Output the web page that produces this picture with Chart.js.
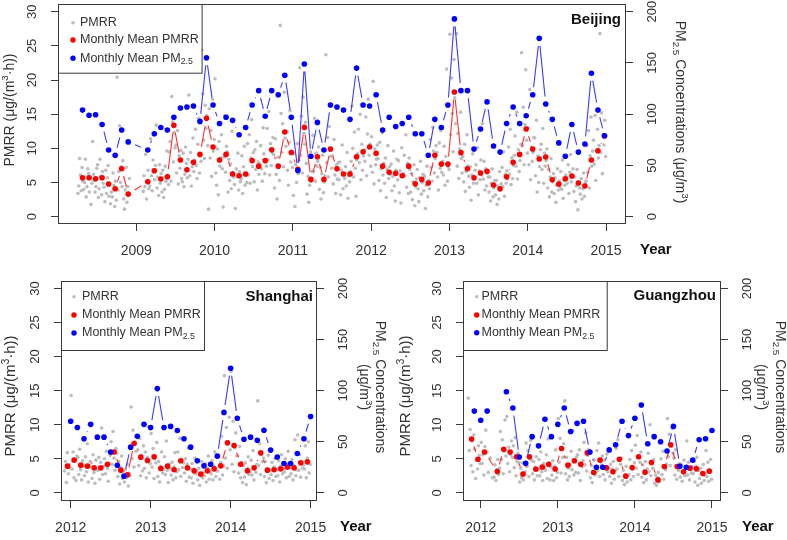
<!DOCTYPE html>
<html><head><meta charset="utf-8">
<script src="https://cdn.jsdelivr.net/npm/chart.js@4"></script>
<style>
html,body{margin:0;padding:0;background:#fff;}
body{width:787px;height:540px;position:relative;overflow:hidden;}
.p{position:absolute;}
canvas{display:block;}
</style></head><body>
<div class="p" style="left:0;top:0;width:787px;height:270px"><canvas id="bj"></canvas></div>
<div class="p" style="left:0;top:270px;width:393px;height:270px"><canvas id="sh"></canvas></div>
<div class="p" style="left:393px;top:270px;width:394px;height:270px"><canvas id="gz"></canvas></div>
<script>
function monthRange(a, b) {
  const out = []; let [y, m] = a.split('-').map(Number); const [y2, m2] = b.split('-').map(Number);
  while (y < y2 || (y === y2 && m <= m2)) { out.push(y + '-' + String(m).padStart(2, '0')); m++; if (m > 12) { m = 1; y++; } }
  return out;
}

// ---------------- Beijing ----------------
const bjMonths = monthRange('2008-04', '2008-11').concat(monthRange('2009-02', '2014-12'));
const bjPM25 = [104,99,99.5,90,65,60,84.5,73,
  65,81,87,84.5,97,106,107,108,93,155,109,
  91,97,94,80,87,109,123,98,123,119,138,97,
  45,149,59,92,65,109,107,104,95,145,109,108,
  119,84.5,97,88,91,97,81,81,60,95,87,109,
  193,123,123,66,85.5,112,69,63,91,107,91,98.5,
  119,174,110,95,72,59,90,63,71,140,104,79];
const bjPMRR = [5.7,5.7,5.56,5.7,4.78,4.1,7.02,3.32,
  5.12,6.73,5.51,5.85,13.37,8.3,6.88,7.95,9.12,14.39,10.2,
  8.3,9.12,6.24,6.0,6.24,8.2,7.4,8.2,9.8,7.4,12.4,9.4,
  6.93,13.07,5.46,8.78,5.46,9.9,7.0,6.24,6.24,8.78,9.5,10.2,
  9.27,7.4,6.49,6.34,6.0,7.4,4.83,5.46,4.93,9.0,7.7,7.7,
  18.24,9.37,7.02,5.7,6.4,6.63,4.63,4.1,5.85,7.95,9.12,12.83,
  9.9,8.44,8.73,5.41,4.78,5.56,5.95,4.93,4.49,8.3,9.66,11.8];
const bjDaily = [
  [3.4,4.5,8.5,6.1,3.8,7.2,5.2,4.0],[5.0,8.4,2.9,4.4,7.0,6.3,3.6,5.8],[1.8,4.9,11.0,6.2,5.3,3.6,4.4,7.1],[7.6,2.8,4.1,8.4,5.9,3.2,6.6,4.9],
  [4.3,2.2,6.8,3.4,5.7,7.5,3.0,4.8],[1.9,3.6,2.9,6.4,4.6,1.5,5.2,2.4],[20.4,3.9,6.6,13.3,5.0,7.3,4.4,8.2],[2.6,1.1,3.9,7.2,2.1,4.4,3.1,5.6],
  [3.7,6.0,4.4,9.1,2.6,5.2,6.8,4.1],[4.5,11.4,6.0,3.8,8.3,6.9,5.4,7.5],[13.4,4.2,5.8,3.1,7.6,4.9,6.3,3.6],[6.8,2.8,4.0,7.4,5.2,9.6,6.1,4.7],
  [9.5,11.0,5.2,17.6,13.9,8.0,12.3,10.1],[10.5,6.4,12.6,4.8,8.9,7.1,9.7,5.6],[5.1,9.3,4.4,6.2,10.2,7.8,5.7,8.4],[17.8,6.0,9.4,4.5,7.3,11.5,6.6,8.3],
  [12.8,7.5,5.6,10.6,14.4,6.4,9.0,8.1],[24.4,18.0,11.2,8.5,16.3,12.9,14.8,10.4],[1.1,15.8,8.6,12.6,5.9,17.2,9.6,11.3],
  [20.2,6.4,4.6,9.9,3.2,11.0,7.4,8.6],[12.0,7.0,1.4,8.7,14.8,6.5,10.3,9.5],[3.6,8.4,5.3,7.7,4.1,12.5,6.5,5.8],[4.7,1.2,7.0,5.8,9.3,3.9,6.6,5.1],
  [5.5,8.9,3.4,7.3,10.3,4.6,6.1,5.0],[10.7,6.1,12.0,4.9,8.6,14.2,7.3,9.4],[5.1,9.8,6.9,11.0,3.9,8.0,6.2,7.7],[10.4,7.0,5.2,13.0,9.2,6.3,8.0,7.4],
  [12.9,8.3,15.4,6.1,10.7,7.5,9.4,11.6],[9.1,4.2,11.4,6.2,2.6,8.7,7.5,5.3],[28.0,15.1,9.4,13.6,7.3,18.2,11.5,10.3],[12.5,6.8,4.6,10.9,15.5,8.0,9.6,7.2],
  [3.1,9.2,1.5,7.6,5.0,10.7,6.3,8.3],[21.8,9.0,14.7,6.4,17.5,12.2,10.6,13.8],[7.8,3.3,5.9,2.1,4.6,9.5,5.2,6.6],[11.9,6.6,14.4,5.2,9.3,7.4,8.1,10.2],
  [4.0,7.2,2.6,6.3,9.0,3.5,5.1,6.0],[23.7,7.9,11.6,5.8,13.2,8.8,9.7,7.1],[8.9,4.8,11.3,6.1,3.4,7.6,5.5,7.9],[5.4,8.0,3.2,6.8,10.5,4.1,6.2,5.6],
  [7.3,4.5,9.4,2.7,6.0,5.1,6.6,8.1],[16.2,10.0,5.8,12.4,7.1,3.0,8.3,9.2],[12.8,7.9,15.0,5.4,10.6,6.8,8.9,9.8],[8.1,14.6,6.0,12.1,17.2,9.0,10.6,7.4],
  [11.7,6.5,19.8,4.8,9.9,7.6,8.4,10.5],[8.5,5.3,10.9,3.8,7.0,12.3,6.1,7.8],[4.9,8.6,2.8,6.9,10.4,5.6,7.3,6.2],[7.7,3.8,5.9,9.6,4.5,2.3,6.8,8.4],
  [5.4,8.2,3.5,6.7,2.0,10.1,5.9,6.3],[9.0,6.0,12.0,4.3,7.8,3.4,8.6,6.9],[3.6,6.3,2.5,5.1,7.6,1.6,4.4,5.5],[6.9,4.1,2.2,5.7,8.1,3.3,5.0,6.2],
  [3.8,5.9,1.2,4.6,7.4,2.9,5.3,4.1],[11.3,7.2,5.2,13.1,9.6,6.4,8.5,10.4],[9.4,5.8,3.9,10.8,7.1,12.6,6.5,8.1],[6.1,10.3,4.6,8.8,21.6,5.2,7.3,6.9],
  [26.7,12.0,20.3,15.1,9.5,23.0,17.4,13.6],[26.8,7.4,12.2,5.6,9.9,15.3,8.5,6.4],[8.8,5.1,10.6,3.7,6.6,12.0,7.4,5.9],[4.3,7.3,2.4,6.1,9.2,4.9,5.6,6.8],
  [7.6,4.9,10.1,3.2,6.7,5.4,8.3,6.1],[13.6,5.5,8.1,3.9,7.0,4.5,6.4,5.8],[3.6,5.8,2.3,4.9,7.0,2.9,4.2,5.3],[3.2,5.3,1.8,4.5,2.6,6.6,3.9,4.8],
  [7.2,4.4,9.5,3.0,6.2,4.9,6.7,5.5],[10.2,6.2,12.8,4.7,8.6,5.6,7.5,9.0],[11.8,7.4,15.3,5.5,9.8,6.6,8.2,10.6],[24.0,10.4,16.0,7.6,13.5,21.5,11.2,9.3],
  [13.0,7.6,18.6,5.4,10.2,8.1,9.4,11.6],[11.5,6.0,14.1,3.6,8.9,5.0,7.3,9.8],[10.6,6.9,12.9,4.9,9.3,7.4,8.2,9.9],[4.2,6.9,2.9,5.8,8.5,3.6,5.1,6.3],
  [3.4,5.7,2.1,4.6,7.0,3.9,5.2,4.4],[6.6,4.0,8.3,2.7,5.3,4.6,6.1,5.8],[4.9,7.6,3.4,6.5,9.1,5.1,5.8,7.0],[3.7,5.8,2.2,4.5,6.9,1.0,5.1,4.2],
  [3.3,5.6,2.6,4.1,6.4,3.0,4.8,5.2],[10.4,6.5,12.6,4.2,8.9,14.6,7.4,9.6],[11.2,7.7,14.8,5.3,9.6,12.8,8.6,10.4],[26.8,9.4,15.2,6.3,12.0,10.5,14.1,8.8]];

// ---------------- Shanghai ----------------
const shMonths = monthRange('2011-12', '2014-12');
const shPM25 = [70, 64,53,67,54.5,54.5,40,27,16.3,44.7,55.3,67,64,
  102,64,65,61,53,44.7,31.3,26.4,28,35.9,78.7,122,
  73,52.5,54.5,51.5,61.3,41.8,35,28.7,28.7,38.5,53,74.7];
const shPMRR = [3.92, 4.8,4.06,3.92,3.67,3.67,4.2,6.0,3.33,2.64,7.24,5.24,4.75,
  5.29,3.57,3.92,3.38,4.7,3.67,3.23,2.74,3.23,3.52,3.96,7.34,
  6.95,4.2,3.23,3.67,5.87,3.33,3.38,3.52,3.77,3.67,4.4,4.55];
const shDaily = [
  [3.2,4.6,1.5,5.9,2.8,4.1,3.6],
  [14.3,3.5,6.0,2.2,4.9,1.8,5.4],[5.2,2.7,6.4,3.4,1.9,4.7,3.9],[2.5,5.3,3.1,7.2,1.6,3.9,4.6],[4.4,2.1,5.6,3.0,1.4,4.8,3.5],
  [3.3,5.2,2.0,4.5,9.5,2.7,3.9],[5.0,2.8,6.1,3.6,1.7,4.3,5.5],[7.5,4.2,9.0,5.1,3.3,6.5,5.8],[2.4,4.6,1.3,3.7,5.4,2.1,3.2],
  [1.6,3.4,2.2,4.2,1.0,2.9,2.5],[12.6,5.0,9.2,3.8,7.5,6.1,8.4],[6.3,4.0,8.0,2.5,5.5,3.2,6.9],[3.6,6.0,2.2,5.2,9.7,2.9,4.3],
  [8.7,3.8,6.5,2.1,5.0,4.4,7.4],[2.4,4.6,1.6,3.9,6.0,2.9,3.4],[5.3,2.7,7.6,3.3,1.5,4.2,3.6],[2.6,4.5,1.9,3.8,5.9,2.2,3.1],
  [6.0,3.4,8.0,2.4,4.9,3.7,4.4],[2.9,5.0,1.7,4.2,6.6,2.3,3.5],[2.2,4.3,1.4,3.5,5.1,2.8,3.2],[1.9,3.6,1.1,2.8,4.6,2.2,2.9],
  [2.5,4.3,1.6,3.6,5.4,2.0,3.1],[2.8,4.7,1.9,3.9,6.0,2.4,3.2],[3.2,5.4,2.0,4.4,8.3,2.6,3.9],[17.2,5.1,9.6,3.6,7.4,11.1,6.3],
  [17.8,4.2,10.5,3.1,6.6,8.8,5.4],[5.4,2.9,6.8,2.2,4.5,1.5,4.0],[2.3,4.4,1.2,3.6,5.3,2.7,3.1],[4.8,2.6,6.2,1.9,3.9,3.0,4.2],
  [13.5,4.0,7.2,2.7,5.6,4.6,5.1],[2.4,4.6,1.5,3.5,5.5,2.1,3.3],[2.7,4.5,1.8,3.8,5.0,2.4,3.4],[2.5,4.7,1.6,3.9,5.6,2.8,3.5],
  [3.1,5.0,2.2,4.2,6.1,2.4,3.7],[2.8,4.9,1.9,4.0,7.8,2.5,3.4],[8.5,3.3,5.6,2.3,4.5,3.6,4.1],[3.5,6.9,2.2,5.1,7.5,2.9,4.2]];

// ---------------- Guangzhou ----------------
const gzMonths = monthRange('2011-11', '2014-12');
const gzPM25 = [80,71, 80,null,null,99,83,35,29,55,46,72,55,67,
  83,60,68,70,40,25,25,42,47,70,56,73,
  86,48,55,50,41,65,26,25,32,52,53,61];
const gzPMRR = [7.9,4.94, 6.0,null,3.13,6.4,6.0,5.3,2.74,5.3,3.47,3.77,4.2,3.5,
  6.5,4.06,4.7,4.2,5.87,2.99,4.8,3.67,3.08,4.94,2.45,3.72,
  5.3,3.03,4.45,1.9,3.87,7.05,3.87,3.08,3.62,3.52,2.84,3.18];
const gzDaily = [
  [13.9,6.2,9.3,4.0,7.6,3.1,8.5],[6.4,2.1,4.8,3.5,6.9,5.5,4.3],
  [7.4,4.3,5.6,2.6,6.8,9.2,5.9],[3.0,5.1,2.2],[2.3,4.1,1.8,3.4,4.9,2.7,3.6],[9.0,4.9,7.8,2.8,6.1,10.7,5.4],
  [11.2,4.3,6.7,3.1,5.6,7.6,5.2],[6.9,3.7,8.1,2.5,4.6,5.8,4.4],[1.6,3.6,2.2,4.4,1.9,2.9,3.1],[7.3,3.9,6.2,2.4,5.1,7.7,4.8],
  [2.8,4.6,1.9,3.8,5.3,2.5,3.4],[4.9,2.5,6.0,3.1,1.8,4.3,3.7],[3.3,5.6,2.1,7.9,4.4,1.9,3.8],[2.6,4.7,1.8,3.9,6.3,2.2,3.0],
  [10.9,4.5,8.0,2.9,6.4,5.2,7.2],[13.5,2.8,5.2,1.9,3.6,2.4,4.1],[6.1,3.4,9.1,2.6,4.8,3.0,5.3],[5.6,2.9,6.3,1.8,4.4,3.8,4.7],
  [7.4,4.1,8.8,3.2,5.5,6.3,5.9],[2.2,4.0,1.5,3.1,4.8,2.6,2.9],[6.2,3.3,7.3,2.4,5.0,4.1,5.4],[2.7,4.8,1.9,3.9,5.7,3.1,3.6],
  [2.4,4.2,1.4,3.5,4.6,2.0,3.3],[6.5,3.5,7.8,2.4,4.9,4.2,5.1],[1.8,3.3,1.2,2.6,3.9,1.6,2.5],[2.7,4.9,1.9,6.2,3.4,2.4,4.4],
  [7.0,3.6,8.4,2.7,5.2,4.5,6.0],[2.3,4.1,1.5,3.3,4.6,1.9,3.5],[5.8,3.1,10.0,2.5,4.3,3.6,4.9],[1.4,2.6,1.1,2.2,3.0,1.6,1.9],
  [5.0,2.7,6.1,2.0,3.8,3.4,4.2],[10.9,5.3,8.6,4.0,6.8,9.5,5.8],[5.1,2.6,6.3,2.0,3.7,3.3,4.3],[2.3,4.2,1.7,3.2,4.8,2.5,3.6],
  [7.6,2.6,4.5,1.9,3.4,2.9,3.8],[2.8,4.6,1.6,3.9,5.2,1.1,3.3],[2.1,3.6,1.4,2.9,4.2,1.8,2.6],[6.2,2.4,4.5,1.7,3.1,4.9,2.0]];

// tick labels
const bjYears = [2009, 2010, 2011, 2012, 2013, 2014, 2015];
const smallYears = [2012, 2013, 2014, 2015];
const leftTicks = [0, 5, 10, 15, 20, 25, 30];
const rightTicks = [0, 50, 100, 150, 200];

// ---------------- styling ----------------
const F = "'Liberation Sans', Arial, sans-serif";
const AX = '#3a3a3a', TX = '#333';
const GRAY = '#bdbdbd', RED = '#ff0000', BLUE = '#0000ff';
const RATIO = 200 / 30;

const TITLE_L = [{t: 'PMRR (\u03bcg/(m'}, {t: '3', s: 'sup'}, {t: '\u00b7h))'}];
const TITLE_R1 = [{t: 'PM'}, {t: '2.5', s: 'sub'}, {t: ' Concentrations (\u03bcg/m'}, {t: '3', s: 'sup'}, {t: ')'}];
const TITLE_Ra = [{t: 'PM'}, {t: '2.5', s: 'sub'}, {t: ' Concentrations'}];
const TITLE_Rb = [{t: '(\u03bcg/m'}, {t: '3', s: 'sup'}, {t: ')'}];
const LEG = [[{t: 'PMRR'}], [{t: 'Monthly Mean PMRR'}], [{t: 'Monthly Mean PM'}, {t: '2.5', s: 'sub'}]];

const panels = [
  {id: 'bj', ox: 0, oy: 0, w: 787, h: 270, area: {l: 58, r: 626, t: 4, b: 224},
   xr: [2008.0, 2015.255], yr: [-1.07, 31.13], years: bjYears,
   months: bjMonths, pm: bjPM25, rr: bjPMRR, daily: bjDaily, pmOff: -0.02, rrOff: -0.02,
   name: 'Beijing', nameX: 621, nameY: 20, yearX: 640, yearY: 250, leftSize: 14,
   leftT: {x: 10, y: 110}, rightT: [{parts: TITLE_R1, x: 680, y: 112}],
   leg: {w: 143.6, h: 68.7, rows: [18.7, 36, 54.3], sym: 15, tx: 22}},
  {id: 'sh', ox: 0, oy: 270, w: 393, h: 270, area: {l: 61, r: 317, t: 11, b: 231},
   xr: [2011.879, 2015.08], yr: [-1.2, 31.1], years: smallYears,
   months: shMonths, pm: shPM25, rr: shPMRR, daily: shDaily, pmOff: 0, rrOff: -0.04,
   name: 'Shanghai', nameX: 313, nameY: 296.5, yearX: 340, yearY: 527, leftSize: 15,
   leftT: {x: 11, y: 396}, rightT: [{parts: TITLE_Ra, x: 380, y: 387}, {parts: TITLE_Rb, x: 364, y: 387}],
   leg: {w: 143, h: 69, rows: [15.7, 34, 52], sym: 13, tx: 21}},
  {id: 'gz', ox: 393, oy: 270, w: 394, h: 270, area: {l: 70, r: 328, t: 11, b: 231},
   xr: [2011.77, 2015.117], yr: [-1.2, 31.1], years: smallYears,
   months: gzMonths, pm: gzPM25, rr: gzPMRR, daily: gzDaily, pmOff: 0, rrOff: -0.035,
   name: 'Guangzhou', nameX: 716, nameY: 296.3, yearX: 742, yearY: 527, leftSize: 15,
   leftT: {x: 406, y: 396}, rightT: [{parts: TITLE_Ra, x: 780, y: 387}, {parts: TITLE_Rb, x: 761, y: 387}],
   leg: {w: 143.7, h: 69, rows: [15.7, 34, 51.7], sym: 13.7, tx: 18.5}}
];
const PANEL = {};
panels.forEach(p => { PANEL[p.id] = p; });

function fnt(size, bold) { return (bold ? 'bold ' : '') + size + 'px ' + F; }
function richWidth(ctx, parts, size) {
  let w = 0;
  for (const p of parts) { ctx.font = fnt(p.s ? size * 0.7 : size); w += ctx.measureText(p.t).width; }
  return w;
}
function drawRich(ctx, parts, x, y, size, align) {
  let cx = align === 'center' ? x - richWidth(ctx, parts, size) / 2 : x;
  ctx.textAlign = 'left'; ctx.textBaseline = 'middle';
  for (const p of parts) {
    const fs = p.s ? size * 0.7 : size;
    ctx.font = fnt(fs);
    const dy = p.s === 'sup' ? -size * 0.33 : p.s === 'sub' ? size * 0.3 : 0;
    ctx.fillText(p.t, cx, y + dy);
    cx += ctx.measureText(p.t).width;
  }
}
function rotRich(ctx, parts, x, y, size, ang) {
  ctx.save(); ctx.translate(x, y); ctx.rotate(ang); drawRich(ctx, parts, 0, 0, size, 'center'); ctx.restore();
}

// R "type = b" style line: segments between points, with a gap around each point
const bLinePlugin = {
  id: 'bline',
  beforeDatasetDraw(chart, args) {
    const ds = chart.data.datasets[args.index];
    if (!ds.bLine) return;
    const pts = args.meta.data, ctx = chart.ctx, g = 7.5, ca = chart.chartArea;
    ctx.save();
    ctx.beginPath();
    ctx.rect(ca.left, ca.top, ca.right - ca.left, ca.bottom - ca.top);
    ctx.clip();
    ctx.strokeStyle = ds.bLine; ctx.lineWidth = 1.1;
    ctx.beginPath();
    for (let i = 1; i < pts.length; i++) {
      if (ds.data[i].y === null || ds.data[i - 1].y === null) continue;
      const a = pts[i - 1], b = pts[i];
      const dx = b.x - a.x, dy = b.y - a.y, d = Math.hypot(dx, dy);
      if (d > 2 * g) {
        const ux = dx / d, uy = dy / d;
        ctx.moveTo(a.x + ux * g, a.y + uy * g);
        ctx.lineTo(b.x - ux * g, b.y - uy * g);
      }
    }
    ctx.stroke();
    ctx.restore();
  }
};

const decoPlugin = {
  id: 'deco',
  afterDraw(chart) {
    const p = PANEL[chart.canvas.id];
    if (!p) return;
    const ctx = chart.ctx, a = chart.chartArea;
    const X = v => v - p.ox, Y = v => v - p.oy;
    ctx.save();
    // plot box
    ctx.strokeStyle = AX; ctx.lineWidth = 1;
    ctx.strokeRect(Math.round(a.left) + 0.5, Math.round(a.top) + 0.5, Math.round(a.right - a.left) - 1, Math.round(a.bottom - a.top) - 1);
    // rotated y tick labels
    ctx.fillStyle = TX;
    for (const [sc, x] of [[chart.scales.y, a.left - 26], [chart.scales.y2, a.right + 26]]) {
      for (const t of sc.ticks) {
        const y = sc.getPixelForValue(t.value);
        ctx.save(); ctx.translate(x, y); ctx.rotate(-Math.PI / 2);
        ctx.font = fnt(13); ctx.textAlign = 'center'; ctx.textBaseline = 'middle';
        ctx.fillText(String(t.value), 0, 0); ctx.restore();
      }
    }
    // axis titles
    rotRich(ctx, TITLE_L, X(p.leftT.x), Y(p.leftT.y), p.leftSize, -Math.PI / 2);
    for (const rt of p.rightT) rotRich(ctx, rt.parts, X(rt.x), Y(rt.y), 14, Math.PI / 2);
    // Year label
    ctx.font = fnt(15, true); ctx.textAlign = 'left'; ctx.textBaseline = 'middle'; ctx.fillStyle = '#111';
    ctx.fillText('Year', X(p.yearX), Y(p.yearY));
    // city name
    ctx.textAlign = 'right';
    ctx.fillText(p.name, X(p.nameX), Y(p.nameY));
    // legend
    const L = p.leg, lx = Math.round(a.left) + 0.5, ly = Math.round(a.top) + 0.5;
    ctx.fillStyle = '#fff'; ctx.fillRect(lx, ly, L.w, L.h);
    ctx.strokeStyle = AX; ctx.strokeRect(lx, ly, L.w, L.h);
    const cols = [GRAY, RED, BLUE], rads = [1.8, 2.7, 2.7];
    for (let i = 0; i < 3; i++) {
      ctx.fillStyle = cols[i];
      ctx.beginPath(); ctx.arc(a.left + L.sym, a.top + L.rows[i], rads[i], 0, Math.PI * 2); ctx.fill();
      ctx.fillStyle = TX;
      drawRich(ctx, LEG[i], a.left + L.tx, a.top + L.rows[i], 12.5, 'left');
    }
    ctx.restore();
  }
};

function build(p) {
  const cv = document.getElementById(p.id);
  cv.width = p.w; cv.height = p.h;
  const gray = [], red = [], blue = [];
  p.months.forEach((m, i) => {
    const [yy, mm] = m.split('-').map(Number);
    const row = p.daily[i] || [];
    row.forEach((v, j) => gray.push({x: yy + (mm - 1) / 12 + (j + 0.5) / (row.length * 12), y: v}));
    const xm = yy + mm / 12;
    if (p.rr[i] !== null) red.push({x: xm + p.rrOff, y: p.rr[i]});
    blue.push({x: xm + p.pmOff, y: p.pm[i]});
  });
  const axisCommon = () => ({
    grid: {drawOnChartArea: false, drawTicks: true, tickLength: 7, color: AX, lineWidth: 1},
    border: {display: false}
  });
  new Chart(cv, {
    type: 'scatter',
    data: {datasets: [
      {label: 'Monthly Mean PM2.5', data: blue, yAxisID: 'y2', order: 1, showLine: false, bLine: '#3a3aff',
       pointRadius: 2.8, pointBorderWidth: 0, backgroundColor: BLUE, borderColor: BLUE},
      {label: 'Monthly Mean PMRR', data: red, yAxisID: 'y', order: 2, showLine: false, bLine: '#ff3030',
       pointRadius: 2.8, pointBorderWidth: 0, backgroundColor: RED, borderColor: RED},
      {label: 'PMRR', data: gray, yAxisID: 'y', order: 3, showLine: false,
       pointRadius: 1.8, pointBorderWidth: 0, backgroundColor: GRAY, borderColor: GRAY}
    ]},
    options: {
      responsive: false, animation: false, events: [],
      layout: {padding: {top: p.area.t, left: 0, right: 0, bottom: 0}},
      plugins: {legend: {display: false}, tooltip: {enabled: false}},
      scales: {
        x: Object.assign(axisCommon(), {
          type: 'linear', min: p.xr[0], max: p.xr[1],
          afterBuildTicks: s => { s.ticks = p.years.map(v => ({value: v})); },
          afterFit: s => { s.height = p.h - p.area.b; },
          ticks: {font: {family: F, size: 14}, color: TX, padding: 12, maxRotation: 0, minRotation: 0, autoSkip: false,
                  callback: v => String(v)}
        }),
        y: Object.assign(axisCommon(), {
          type: 'linear', position: 'left', min: p.yr[0], max: p.yr[1],
          afterBuildTicks: s => { s.ticks = leftTicks.map(v => ({value: v})); },
          afterFit: s => { s.width = p.area.l; },
          ticks: {display: false}
        }),
        y2: Object.assign(axisCommon(), {
          type: 'linear', position: 'right', min: p.yr[0] * RATIO, max: p.yr[1] * RATIO,
          afterBuildTicks: s => { s.ticks = rightTicks.map(v => ({value: v})); },
          afterFit: s => { s.width = p.w - p.area.r; },
          ticks: {display: false}
        })
      }
    },
    plugins: [bLinePlugin, decoPlugin]
  });
}
panels.forEach(build);
</script>
</body></html>
